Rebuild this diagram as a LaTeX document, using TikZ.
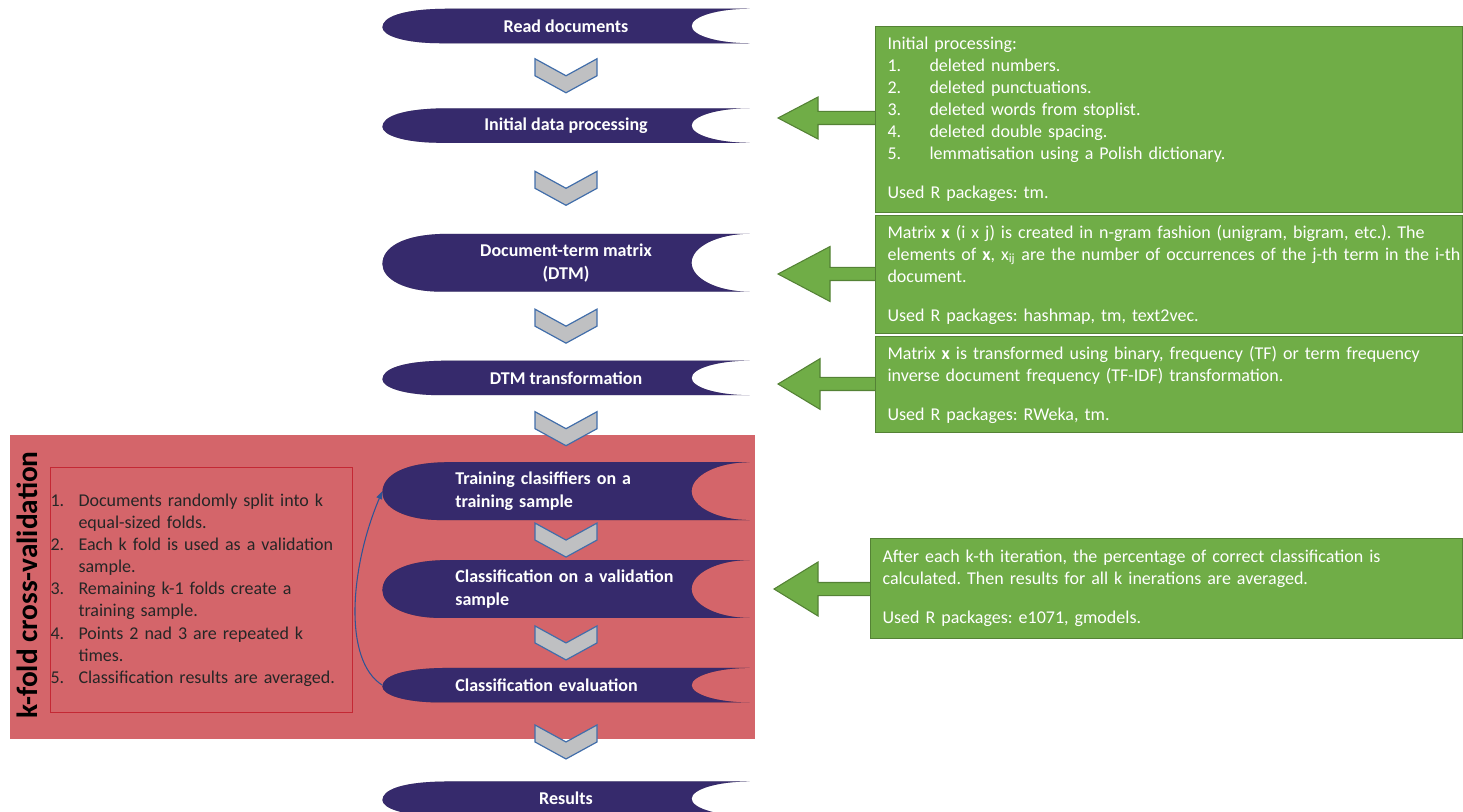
\documentclass[tikz,border=0pt]{standalone}
\usepackage{fontspec}
\setmainfont{Carlito}
\frenchspacing
\usetikzlibrary{positioning, calc, arrows.meta, backgrounds}

\definecolor{stageblue}{RGB}{54,42,108}
\definecolor{chevgray}{RGB}{191,192,194}
\definecolor{chevblue}{RGB}{66,110,170}
\definecolor{notegreen}{RGB}{112,173,71}
\definecolor{noteedge}{RGB}{84,130,53}
\definecolor{foldred}{RGB}{212,101,106}
\definecolor{foldedge}{RGB}{196,40,52}
\definecolor{loopblue}{RGB}{46,84,150}

\tikzset{
  % Flow stages (banner shaped)
  stage/.style={minimum width=275pt, inner sep=2pt, text=white, align=center, font=\bfseries\fontsize{13.5}{17.25}\selectfont},
  stageleft/.style={stage, text width=166pt, align=left},
  stagefill/.style={fill=stageblue},
  stageshadow/.style={fill=black, opacity=0.3, shift={(1.5pt,-2pt)}},
  % Chevrons between stages
  chevron/.style={fill=chevgray, draw=chevblue, line width=0.9pt, line join=miter},
  % Side notes
  notebox/.style={fill=notegreen, draw=noteedge, line width=0.8pt, text=white, align=left, anchor=north west, inner xsep=9pt, font=\fontsize{13.5}{16.5}\selectfont},
  noteshape/.style={fill=notegreen, draw=noteedge, line width=0.8pt, line join=miter},
  % Cross-validation block
  foldregion/.style={fill=foldred},
  foldbox/.style={draw=foldedge, line width=0.8pt, anchor=north west, inner sep=0pt, minimum width=226.5pt, minimum height=183.75pt, text width=226.5pt, align=left, text=black!85, font=\fontsize{13.5}{16.6}\selectfont},
  foldlabel/.style={rotate=90, text=black, font=\bfseries\fontsize{22}{24}\selectfont},
  loopback/.style={-{Triangle[length=6pt,width=4.5pt]}, draw=loopblue, line width=0.8pt},
}

% banner outline of a stage node
\newcommand{\stagepath}[1]{let \p1=(#1.north west), \p2=(#1.south east), \p3=($(#1.north west)!0.5!(#1.south west)$) in
  (\x2,\y1) -- (\x1+50pt,\y1)
  .. controls (\x1+14pt,\y1) and (\x1,{\y3+0.5*(\y1-\y3)}) .. (\x1,\y3-1pt)
  .. controls (\x1,{\y2+0.45*(\y1-\y3)}) and (\x1+16pt,\y2) .. (\x1+44pt,\y2)
  -- (\x2,\y2)
  .. controls (\x2-24pt,\y2) and (\x2-43.5pt,{\y3-0.55*(\y1-\y3)}) .. (\x2-43.5pt,\y3)
  .. controls (\x2-43.5pt,{\y3+0.55*(\y1-\y3)}) and (\x2-24pt,\y1) .. (\x2,\y1) -- cycle}

% block arrow from a note to its tip: box, tip, head length, head half-height
\newcommand{\calloutarrow}[4]{%
  \filldraw[noteshape] let \p1=(#2), \p2=(#1.west) in
    (\x1,\y1) -- (\x1+#3,\y1+#4) -- (\x1+#3,\y1+4.9pt) -- (\x2+1pt,\y1+4.9pt)
    -- (\x2+1pt,\y1-4.9pt) -- (\x1+#3,\y1-4.9pt) -- (\x1+#3,\y1-#4) -- cycle;}

\begin{document}
\begin{tikzpicture}[x=0.75pt, y=-0.75pt]
\useasboundingbox (0,0) rectangle (1463,812);

% stages
\node[stage, minimum height=25.5pt] (read) at (566,26) {Read documents};
\node[stage, minimum height=25.5pt, below=48.75pt of read] (init) {Initial data processing};
\node[stage, minimum height=43pt, below=68.25pt of init] (dtm) {Document-term matrix\\(DTM)};
\node[stage, minimum height=25.5pt, below=51.75pt of dtm] (trans) {DTM transformation};
\node[stageleft, minimum height=43pt, below=50.25pt of trans] (train) {Training clasiffiers on a\\training sample};
\node[stageleft, minimum height=43pt, below=30pt of train] (valid) {Classification on a validation\\sample};
\node[stageleft, minimum height=25.5pt, below=37.5pt of valid] (eval) {Classification evaluation};
\node[stage, minimum height=25.5pt, below=59.25pt of eval] (res) {Results};

% chevrons
\foreach \a/\b in {read/init, init/dtm, dtm/trans, trans/train, train/valid, valid/eval, eval/res}
  \draw[chevron] ($(\a.south)!0.5!(\b.north)$) ++(-31,-17) -- ++(31,17) -- ++(31,-17)
    -- ++(0,17) -- ++(-31,17) -- ++(-31,-17) -- cycle;

% notes
\node[notebox, text width=422pt, minimum height=139.5pt] (note1) at (875,26) {Initial processing:\\
  \makebox[31.5pt][l]{1.}deleted numbers.\\
  \makebox[31.5pt][l]{2.}deleted punctuations.\\
  \makebox[31.5pt][l]{3.}deleted words from stoplist.\\
  \makebox[31.5pt][l]{4.}deleted double spacing.\\
  \makebox[31.5pt][l]{5.}lemmatisation using a Polish dictionary.\\[12.75pt]
  Used R packages: tm.};
\node[notebox, text width=422pt, minimum height=88.5pt] (note2) at (875,215) {\mbox{Matrix \textbf{x} (i x j) is created in n-gram fashion (unigram, bigram, etc.). The}\\
  \mbox{elements of \textbf{x}, x\textsubscript{ij} are the number of occurrences of the j-th term in the i-th}\\
  document.\\[12.75pt]
  Used R packages: hashmap, tm, text2vec.};
\node[notebox, text width=422pt, minimum height=72pt] (note3) at (875,336) {Matrix \textbf{x} is transformed using binary, frequency (TF) or term frequency\\
  inverse document frequency (TF-IDF) transformation.\\[12.75pt]
  Used R packages: RWeka, tm.};
\node[notebox, text width=426pt, minimum height=75pt] (note4) at (870,538) {After each k-th iteration, the percentage of correct classification is\\
  calculated. Then results for all k inerations are averaged.\\[12.75pt]
  Used R packages: e1071, gmodels.};

\coordinate (tip1) at (778,118);
\coordinate (tip2) at (778,274);
\coordinate (tip3) at (778,384);
\coordinate (tip4) at (774,589);

% cross-validation block
\node[foldbox] (steps) at (50,467) {\makebox[21pt][l]{1.}Documents randomly split into k\\
  \hspace*{21pt}equal-sized folds.\\
  \makebox[21pt][l]{2.}Each k fold is used as a validation\\
  \hspace*{21pt}sample.\\
  \makebox[21pt][l]{3.}Remaining k-1 folds create a\\
  \hspace*{21pt}training sample.\\
  \makebox[21pt][l]{4.}Points 2 nad 3 are repeated k\\
  \hspace*{21pt}times.\\
  \makebox[21pt][l]{5.}Classification results are averaged.};
\node[foldlabel] (kfold) at (27,585) {k-fold cross-validation};

\draw[loopback] (eval.west) .. controls +(-40,-25) and +(-32,75) .. (train.west);

\begin{scope}[on background layer]
  \fill[foldregion] (10,435) rectangle (755,739);
  \foreach \s in {read,init,dtm,trans,train,valid,eval,res}{
    \fill[stageshadow] \stagepath{\s};
    \fill[stagefill] \stagepath{\s};
  }
  \calloutarrow{note1}{tip1}{30pt}{15.75pt}
  \calloutarrow{note2}{tip2}{39pt}{20.6pt}
  \calloutarrow{note3}{tip3}{31.5pt}{19pt}
  \calloutarrow{note4}{tip4}{33pt}{20.25pt}
\end{scope}

\end{tikzpicture}
\end{document}
